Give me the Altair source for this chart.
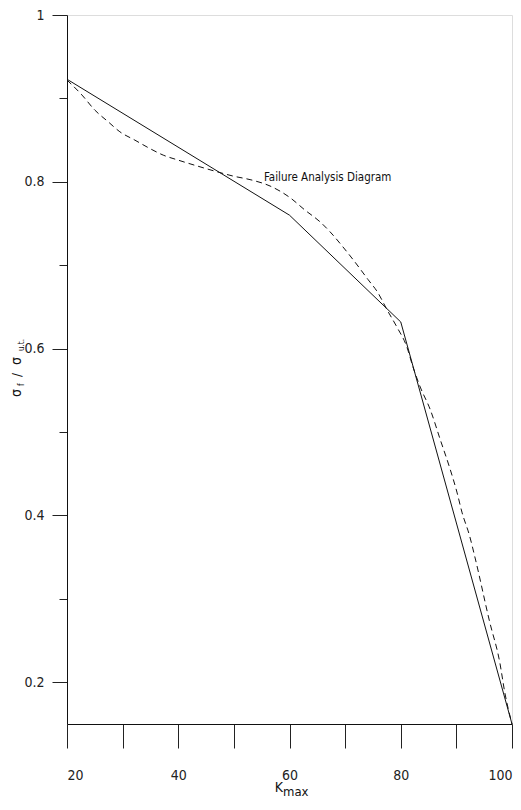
import altair as alt
import pandas as pd

# Solid curve
solid_x = [20, 60, 80, 100]
solid_y = [0.923, 0.76, 0.632, 0.15]

# Dashed curve
dash_x = [20, 22.7, 25, 27.4, 29.5, 32.2, 34.6, 37.3, 40, 43.4, 47, 49.8, 53.3, 56.5,
          60.1, 62.8, 65.5, 67.3, 69.6, 71.4, 74.1, 75.9, 77.5, 79.3, 81.1, 82.2, 83.5,
          85.3, 87.1, 88.9, 90.1, 91, 92.4, 93.3, 96, 97.8, 98.7, 100]
dash_y = [0.922, 0.904, 0.886, 0.872, 0.860, 0.850, 0.841, 0.832, 0.826, 0.819, 0.812,
          0.807, 0.802, 0.795, 0.781, 0.766, 0.752, 0.740, 0.722, 0.707, 0.683, 0.667,
          0.647, 0.626, 0.602, 0.578, 0.554, 0.527, 0.491, 0.455, 0.428, 0.404, 0.375,
          0.351, 0.272, 0.224, 0.188, 0.15]

x_ticks = [20, 30, 40, 50, 60, 70, 80, 90, 100]
y_ticks = [0.2, 0.3, 0.4, 0.5, 0.6, 0.7, 0.8, 0.9, 1.0]

annot_text = ["Failure Analysis Diagram"]
annot_x = [55.4]
annot_y = [0.805]

FONT = "DejaVu Sans Condensed, Roboto Condensed, Liberation Sans Narrow, Liberation Sans, sans-serif"

solid_df = pd.DataFrame({"x": solid_x, "y": solid_y})
dash_df = pd.DataFrame({"x": dash_x, "y": dash_y})
annot_df = pd.DataFrame({"x": annot_x, "y": annot_y, "t": annot_text})

xscale = alt.Scale(domain=[20, 100], nice=False, zero=False)
yscale = alt.Scale(domain=[0.15, 1.0], nice=False, zero=False)

xaxis = alt.Axis(values=x_ticks, title=None, grid=False, tickSize=24, tickColor="#222",
                 domainColor="#111", labelPadding=20, labelFontSize=14, labelFont=FONT,
                 labelColor="#222",
                 labelExpr="round(datum.value) % 20 == 0 ? datum.label : ''")
yaxis = alt.Axis(values=y_ticks, title=None, grid=False, format="~g",
                 tickSize={"condition": {"test": "round(datum.value*10) % 2 == 0", "value": 15}, "value": 8},
                 tickColor="#222", domainColor="#111", labelPadding=8, labelFontSize=14,
                 labelFont=FONT, labelColor="#222",
                 labelExpr="round(datum.value*10) % 2 == 0 ? datum.label : ''")

solid = alt.Chart(solid_df).mark_line(color="#111", strokeWidth=1).encode(
    x=alt.X("x:Q", scale=xscale, axis=xaxis),
    y=alt.Y("y:Q", scale=yscale, axis=yaxis),
)

dashed = alt.Chart(dash_df).mark_line(color="#111", strokeWidth=1, strokeDash=[6, 4],
                                      interpolate="monotone").encode(
    x=alt.X("x:Q", scale=xscale),
    y=alt.Y("y:Q", scale=yscale),
)

annot = alt.Chart(annot_df).mark_text(align="left", baseline="middle", font=FONT,
                                      fontSize=11.5, color="#111").encode(
    x=alt.X("x:Q", scale=xscale),
    y=alt.Y("y:Q", scale=yscale),
    text="t:N",
)

# axis titles drawn as text pieces (with subscripts)
k_title = alt.Chart(pd.DataFrame({"t": ["K"]})).mark_text(
    align="right", baseline="alphabetic", font=FONT, fontSize=14, color="#111"
).encode(x=alt.value(216), y=alt.value(777), text="t:N")
max_title = alt.Chart(pd.DataFrame({"t": ["max"]})).mark_text(
    align="left", baseline="alphabetic", font=FONT, fontSize=13, color="#111"
).encode(x=alt.value(216), y=alt.value(781), text="t:N")

ytitle_parts = alt.Chart(pd.DataFrame({
    "t": ["σ", "f", "/", "σ", "u.t."],
    "py": [382, 371, 362, 350, 336],
    "px": [-46, -43, -46, -46, -43],
    "fs": [14, 8, 13, 14, 8],
})).mark_text(align="left", baseline="alphabetic", angle=270, font=FONT, color="#111").encode(
    x=alt.X("px:Q", scale=None),
    y=alt.Y("py:Q", scale=None),
    size=alt.Size("fs:Q", scale=None, legend=None),
    text="t:N",
)

chart = alt.layer(solid, dashed, annot, k_title, max_title, ytitle_parts).properties(
    width=445, height=709,
    autosize=alt.AutoSizeParams(type="none"),
    padding={"left": 59, "top": 7, "right": 1, "bottom": 76},
).configure_view(stroke="#444", strokeWidth=1.5).configure(background="white")

chart.save("out.html", embed_options={"renderer": "svg", "actions": False})
